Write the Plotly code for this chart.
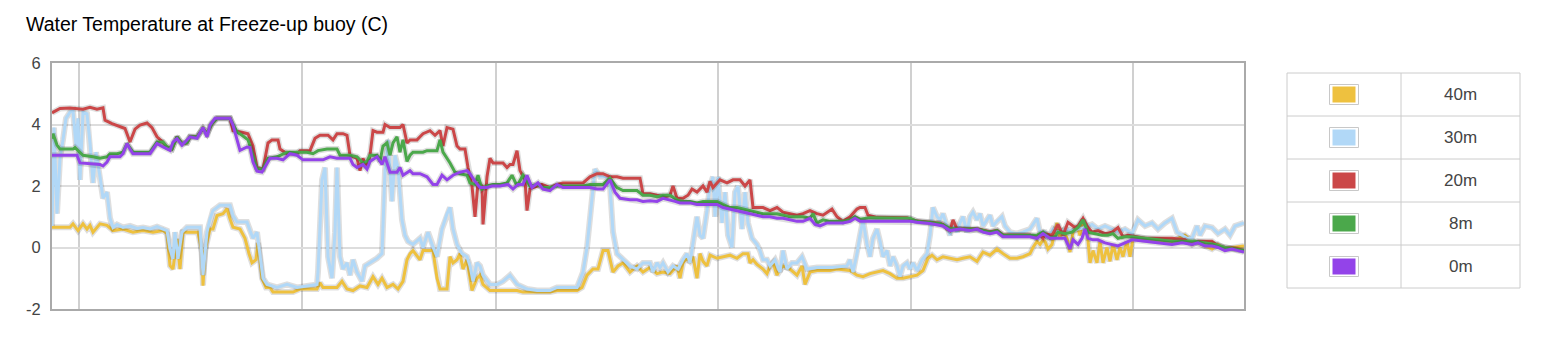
import plotly.graph_objects as go

# ---- data: (hour, temperature C) ----
series_names = ["40m", "30m", "20m", "8m", "0m"]
series_colors = ["#EEC13F", "#B1D8F7", "#CB4748", "#4BA84B", "#9343E9"]

temp_40m = [(50,0.66),(68,0.66),(71,0.77),(76,0.55),(81,0.77),(85,0.6),(88,0.72),(91,0.5),(98,0.77),(105,0.72),
    (111,0.55),(121,0.6),(131,0.5),(141,0.55),(151,0.5),(161,0.55),(165,0.45),(168,-0.59),(171,-0.7),(175,0.28),
    (178,-0.7),(181,0.5),(188,0.5),(196,0.5),(200,-0.15),(201,-1.24),(203,-0.1),(208,0.6),(211,0.6),(215,1.04),
    (221,1.1),(225,1.26),(228,0.93),(231,0.66),(238,0.6),(243,0.3),(247,-0.2),(250,-0.5),(254,-0.4),(256,0.15),
    (260,-1.0),(264,-1.3),(268,-1.3),(271,-1.45),(291,-1.45),(298,-1.35),(315,-1.35),(318,-1.15),(321,-1.3),(335,-1.3),
    (340,-1.1),(345,-1.35),(351,-1.4),(358,-1.25),(365,-1.3),(371,-0.95),(376,-1.2),(380,-1.0),(385,-1.3),(391,-1.2),
    (396,-1.35),(401,-1.1),(405,-0.4),(408,-0.2),(411,-0.1),(418,-0.4),(421,-0.1),(431,-0.1),(435,-1.0),(438,-1.35),
    (445,-1.35),(448,-0.3),(451,-0.5),(455,-0.4),(458,-0.2),(461,-0.7),(465,-0.4),(470,-1.4),(475,-1.0),(478,-0.9),
    (481,-1.2),(488,-1.4),(515,-1.4),(521,-1.45),(548,-1.45),(555,-1.4),(575,-1.4),(580,-1.3),(585,-0.9),(591,-0.7),
    (596,-0.7),(601,-0.1),(606,-0.1),(611,-0.8),(616,-0.6),(621,-0.5),(628,-0.8),(635,-0.6),(641,-0.8),(648,-0.65),
    (655,-0.85),(661,-0.8),(668,-0.85),(675,-0.6),(678,-1.0),(681,-0.5),(685,-0.35),(688,-0.45),(691,-0.3),(695,-1.0),
    (698,-0.2),(701,-0.45),(705,-0.6),(708,-0.25),(715,-0.35),(721,-0.3),(728,-0.25),(735,-0.35),(741,-0.2),(746,-0.2),
    (748,-0.5),(751,-0.4),(755,-0.55),(761,-0.7),(765,-0.85),(768,-0.6),(771,-0.5),(775,-0.9),(778,-0.7),(781,-0.6),
    (788,-0.7),(795,-0.9),(800,-0.6),(803,-1.2),(808,-0.8),(815,-0.75),(828,-0.75),(835,-0.7),(848,-0.75),(855,-0.9),
    (861,-0.95),(868,-0.85),(875,-0.8),(881,-0.75),(888,-0.85),(895,-1.0),(901,-1.0),(908,-0.95),(915,-0.9),(921,-0.75),
    (926,-0.35),(930,-0.25),(935,-0.4),(941,-0.3),(948,-0.35),(955,-0.4),(961,-0.35),(968,-0.3),(975,-0.45),(981,-0.15),
    (988,-0.25),(995,-0.05),(1001,-0.2),(1008,-0.35),(1015,-0.35),(1021,-0.3),(1028,-0.2),(1031,0.0),(1035,0.2),(1038,0.1),
    (1041,0.25),(1043,0.2),(1046,-0.05),(1050,0.1),(1055,0.8),(1058,0.3),(1061,0.6),(1065,0.3),(1068,-0.15),(1071,0.5),
    (1075,0.7),(1078,0.4),(1081,0.9),(1085,0.6),(1088,-0.5),(1091,-0.1),(1095,-0.5),(1098,0.2),(1101,-0.5),(1105,0.0),
    (1108,-0.45),(1111,0.1),(1115,-0.4),(1118,0.0),(1121,-0.3),(1125,0.2),(1128,-0.3),(1131,0.3),(1135,0.3),(1143,0.25),
    (1156,0.2),(1170,0.2),(1183,0.4),(1190,0.2),(1196,0.15),(1203,0.05),(1210,-0.05),(1216,0.1),(1223,-0.05),(1230,0.0),
    (1242,0.05)]

temp_30m = [(50,0.7),(52,3.9),(55,1.1),(58,2.9),(61,3.5),(64,4.2),(68,4.4),(71,4.45),(74,3.3),(76,4.2),(78,2.2),
    (81,4.4),(85,4.35),(88,3.4),(91,2.1),(94,3.1),(98,2.3),(101,1.6),(105,1.8),(108,0.95),(111,0.65),(115,0.75),
    (121,0.65),(128,0.7),(135,0.62),(141,0.65),(148,0.6),(155,0.68),(161,0.6),(165,0.55),(168,-0.05),(171,-0.37),
    (173,0.5),(176,-0.37),(180,0.5),(185,0.66),(198,0.66),(201,-0.9),(205,0.5),(208,0.93),(211,1.2),(218,1.37),
    (228,1.37),(231,1.04),(235,0.83),(245,0.83),(248,0.55),(251,0.3),(255,0.5),(258,-0.3),(261,-1.0),(265,-1.2),
    (275,-1.3),(285,-1.2),(295,-1.3),(305,-1.25),(315,-1.2),(316,-0.8),(320,2.2),(323,2.6),(326,-0.3),(330,-1.0),
    (333,0.5),(335,2.6),(338,-0.3),(341,-0.7),(345,-0.5),(348,-0.9),(351,-0.4),(355,-0.8),(360,-1.1),(363,-0.6),
    (368,-0.5),(375,-0.35),(380,-0.2),(383,2.5),(386,3.5),(390,1.5),(393,3.0),(396,2.6),(400,0.9),(403,0.4),
    (406,0.2),(411,0.1),(418,0.3),(421,0.0),(426,0.5),(430,0.1),(435,-0.3),(440,0.6),(445,1.1),(448,1.3),
    (451,0.6),(455,0.1),(460,-0.2),(465,-0.3),(468,-0.6),(471,-1.1),(475,-0.5),(478,-0.6),(481,-0.9),(488,-1.2),
    (495,-1.2),(501,-1.1),(508,-0.9),(515,-1.2),(525,-1.35),(535,-1.4),(548,-1.4),(555,-1.3),(575,-1.3),(581,-0.8),
    (585,0.0),(590,1.5),(593,2.55),(598,2.3),(605,2.3),(608,2.0),(611,0.5),(615,-0.2),(621,-0.4),(628,-0.6),
    (635,-0.7),(641,-0.5),(648,-0.5),(651,-0.8),(655,-0.5),(658,-0.65),(661,-0.5),(666,-0.8),(671,-0.6),(676,-0.7),
    (681,-0.4),(685,-0.2),(688,-0.5),(691,0.2),(695,1.0),(698,0.4),(701,0.3),(705,1.2),(708,2.0),(711,2.3),
    (713,1.0),(716,2.3),(720,0.8),(723,1.8),(726,0.4),(730,0.0),(733,1.8),(736,2.0),(740,0.6),(743,1.8),
    (746,0.8),(750,0.3),(755,0.1),(758,-0.1),(761,-0.4),(765,-0.4),(768,-0.6),(773,-0.4),(778,-0.8),(781,-0.1),
    (785,-0.7),(790,-0.5),(795,-0.5),(800,-0.3),(805,-0.7),(815,-0.65),(830,-0.65),(845,-0.6),(848,-0.4),(851,-0.8),
    (855,-0.2),(858,0.4),(861,0.9),(865,0.1),(868,-0.3),(871,0.3),(875,0.6),(878,0.2),(881,-0.3),(885,-0.1),
    (888,-0.6),(891,-0.3),(895,-0.6),(898,-0.95),(901,-0.6),(905,-0.5),(908,-0.7),(911,-0.5),(915,-0.75),(920,-0.4),
    (925,-0.2),(928,0.4),(931,1.3),(935,1.0),(938,0.9),(941,1.1),(945,0.7),(948,0.4),(951,0.8),(955,0.5),
    (958,0.8),(961,1.0),(965,0.5),(968,1.0),(971,1.15),(975,0.9),(978,1.1),(981,0.7),(985,0.9),(988,1.05),
    (991,0.7),(995,0.85),(1000,1.0),(1003,0.7),(1008,0.5),(1015,0.45),(1021,0.5),(1028,0.6),(1035,0.95),(1038,0.5),
    (1043,0.5),(1046,0.3),(1051,0.6),(1056,0.5),(1063,0.6),(1070,0.55),(1076,0.6),(1083,0.65),(1090,0.75),(1096,0.6),
    (1103,0.7),(1110,0.6),(1116,0.5),(1123,0.6),(1130,0.45),(1136,0.9),(1143,0.7),(1150,0.8),(1156,0.6),(1163,0.8),
    (1170,0.95),(1175,0.5),(1180,0.4),(1185,0.3),(1190,0.3),(1195,0.7),(1198,0.4),(1203,0.7),(1210,0.65),(1216,0.45),
    (1223,0.6),(1228,0.4),(1233,0.7),(1238,0.75),(1242,0.8)]

temp_20m = [(50,4.38),(58,4.52),(68,4.54),(81,4.5),(88,4.56),(95,4.5),(101,4.54),(103,4.14),(110,4.03),(116,3.95),
    (123,3.87),(128,3.43),(133,3.85),(138,3.98),(145,4.05),(150,3.9),(155,3.6),(160,3.45),(165,3.27),(170,3.2),
    (175,3.6),(180,3.38),(185,3.4),(188,3.6),(195,3.6),(201,3.87),(205,3.7),(210,4.03),(215,4.2),(228,4.2),
    (231,3.8),(240,3.75),(246,3.7),(251,3.3),(255,2.6),(261,2.55),(266,3.4),(270,3.5),(276,3.5),(278,3.2),
    (285,3.05),(295,3.05),(298,3.15),(308,3.15),(313,3.55),(318,3.65),(326,3.65),(331,3.5),(335,3.7),(341,3.7),
    (345,3.65),(348,3.0),(355,2.9),(358,2.5),(361,2.9),(365,2.6),(368,3.0),(371,3.8),(375,3.75),(381,3.75),
    (383,4.0),(388,3.9),(398,3.9),(401,4.0),(405,3.4),(408,3.5),(415,3.5),(418,3.6),(421,3.7),(428,3.8),
    (433,3.65),(438,3.8),(441,3.3),(445,3.9),(451,3.85),(455,3.3),(458,3.2),(463,3.2),(466,2.6),(470,2.0),
    (473,1.0),(476,2.1),(480,2.0),(481,0.75),(485,2.3),(488,2.9),(491,2.75),(501,2.75),(505,2.6),(508,2.7),
    (511,2.7),(515,3.15),(518,2.5),(523,2.2),(525,1.2),(528,1.9),(531,1.95),(540,2.05),(548,1.95),(555,2.05),
    (561,2.1),(581,2.1),(588,2.3),(595,2.4),(601,2.4),(608,2.3),(615,2.3),(621,2.25),(638,2.25),(641,1.75),
    (648,1.75),(655,1.7),(663,1.65),(668,1.7),(671,2.0),(675,1.6),(681,1.6),(686,1.7),(690,1.9),(695,1.8),
    (701,2.0),(705,1.8),(708,2.15),(711,1.95),(718,2.2),(725,2.1),(731,2.2),(738,2.2),(743,2.0),(748,2.2),
    (751,1.3),(761,1.3),(768,1.2),(775,1.3),(781,1.15),(788,1.1),(795,1.05),(801,1.1),(808,1.2),(815,1.1),
    (821,1.05),(830,1.25),(835,1.0),(841,0.85),(848,1.0),(855,1.25),(858,1.3),(863,1.3),(866,1.05),(875,0.98),
    (890,0.98),(905,0.97),(915,0.86),(928,0.83),(938,0.79),(941,0.75),(945,0.6),(948,0.55),(951,0.9),(955,0.6),
    (960,0.61),(975,0.61),(981,0.56),(988,0.51),(995,0.56),(1001,0.41),(1015,0.41),(1028,0.41),(1035,0.3),(1038,0.4),
    (1041,0.3),(1043,0.45),(1050,0.4),(1056,0.75),(1061,0.4),(1066,0.82),(1073,0.65),(1076,0.7),(1081,0.95),(1085,0.7),
    (1090,0.5),(1096,0.55),(1103,0.45),(1110,0.5),(1116,0.65),(1121,0.35),(1126,0.4),(1133,0.35),(1143,0.3),(1156,0.3),
    (1170,0.3),(1183,0.25),(1190,0.1),(1196,0.2),(1210,0.2),(1216,0.05),(1223,0.0),(1236,-0.05),(1242,-0.1)]

temp_8m = [(50,3.54),(51,3.7),(55,3.33),(58,3.2),(65,3.2),(71,3.2),(73,3.25),(76,3.16),(81,3.0),(91,2.95),
    (98,2.9),(105,2.95),(108,3.05),(115,3.05),(121,3.1),(125,3.38),(131,3.1),(148,3.1),(155,3.43),(161,3.43),
    (165,3.27),(170,3.2),(175,3.6),(180,3.38),(185,3.4),(188,3.6),(195,3.6),(201,3.87),(205,3.7),(210,4.03),
    (215,4.2),(228,4.2),(231,4.03),(235,3.76),(240,3.65),(246,3.5),(251,3.0),(255,2.55),(261,2.55),(266,2.9),
    (275,2.95),(285,3.1),(305,3.1),(311,3.05),(316,3.15),(325,3.2),(335,3.2),(338,3.0),(348,3.0),(355,2.95),
    (361,2.75),(365,2.8),(368,3.0),(375,3.0),(378,2.8),(381,3.3),(385,3.4),(388,3.0),(391,3.4),(395,3.6),
    (398,3.1),(401,3.5),(405,2.8),(408,3.0),(411,3.1),(421,3.1),(425,3.15),(435,3.15),(438,3.5),(441,3.1),
    (448,2.75),(453,2.45),(458,2.4),(465,2.35),(468,2.1),(473,2.05),(476,2.35),(480,1.9),(485,2.0),(491,2.05),
    (498,2.05),(505,2.1),(510,2.35),(515,2.0),(521,2.35),(528,2.0),(535,2.05),(541,1.95),(548,1.95),(555,2.0),
    (581,2.0),(588,2.05),(601,2.05),(608,2.25),(615,1.95),(621,1.85),(635,1.85),(641,1.7),(648,1.7),(655,1.65),
    (661,1.7),(668,1.7),(675,1.55),(681,1.5),(688,1.5),(695,1.45),(701,1.5),(715,1.5),(721,1.4),(728,1.3),
    (735,1.3),(741,1.25),(748,1.2),(755,1.15),(761,1.1),(775,1.1),(781,1.05),(788,1.0),(801,1.0),(808,0.95),
    (811,1.1),(815,0.8),(821,0.9),(828,0.85),(841,0.85),(848,0.9),(853,1.0),(858,0.92),(868,0.97),(890,0.97),
    (908,0.95),(915,0.85),(928,0.82),(938,0.78),(948,0.62),(958,0.6),(975,0.6),(981,0.55),(988,0.5),(995,0.55),
    (1001,0.4),(1028,0.4),(1035,0.4),(1041,0.5),(1048,0.3),(1053,0.35),(1056,0.5),(1063,0.45),(1070,0.5),(1076,0.65),
    (1081,0.9),(1086,0.5),(1093,0.45),(1100,0.4),(1106,0.4),(1111,0.45),(1116,0.3),(1123,0.35),(1130,0.35),(1143,0.3),
    (1156,0.25),(1170,0.2),(1193,0.2),(1203,0.15),(1213,0.1),(1223,0.0),(1233,-0.05),(1242,-0.1)]

temp_0m = [(50,3.0),(58,3.0),(75,3.0),(78,2.75),(88,2.72),(98,2.7),(101,2.65),(105,2.78),(108,2.95),(118,2.95),
    (121,3.05),(125,3.38),(128,3.2),(131,3.05),(148,3.05),(155,3.38),(161,3.27),(168,3.16),(171,3.43),(175,3.54),
    (180,3.33),(188,3.6),(195,3.55),(201,3.9),(205,3.6),(208,3.98),(213,4.2),(228,4.2),(231,3.98),(235,3.54),
    (238,3.16),(245,3.27),(248,3.25),(251,2.78),(255,2.48),(260,2.45),(268,2.9),(275,2.9),(281,2.85),(288,3.05),
    (295,3.0),(301,2.85),(321,2.85),(328,2.95),(335,2.9),(348,2.9),(351,2.7),(355,2.6),(361,2.7),(365,2.55),
    (368,2.8),(375,2.95),(380,2.7),(383,2.95),(388,2.45),(395,2.45),(398,2.6),(401,2.35),(408,2.5),(411,2.4),
    (418,2.4),(425,2.3),(431,2.05),(435,2.05),(440,2.35),(445,2.2),(451,2.35),(458,2.45),(465,2.5),(468,2.4),
    (473,2.15),(478,1.95),(485,1.95),(490,2.0),(498,2.0),(506,2.05),(511,1.9),(516,2.05),(521,2.05),(525,2.35),
    (530,1.95),(536,2.1),(541,1.9),(548,1.85),(555,2.05),(561,1.95),(588,1.95),(595,1.9),(601,1.9),(608,2.2),
    (613,1.8),(618,1.6),(628,1.55),(635,1.55),(641,1.5),(648,1.52),(655,1.5),(661,1.6),(668,1.55),(673,1.5),
    (678,1.45),(688,1.45),(695,1.4),(715,1.4),(721,1.3),(728,1.25),(735,1.2),(741,1.15),(748,1.1),(755,1.05),
    (761,1.0),(768,1.0),(775,0.95),(781,0.95),(788,0.9),(795,0.85),(801,0.85),(808,0.95),(813,0.75),(818,0.7),
    (825,0.8),(841,0.8),(848,0.85),(853,0.95),(858,0.85),(908,0.85),(915,0.82),(928,0.78),(941,0.7),(948,0.55),
    (958,0.6),(968,0.55),(975,0.6),(981,0.5),(988,0.45),(995,0.5),(1001,0.35),(1028,0.35),(1035,0.3),(1041,0.45),
    (1048,0.3),(1053,0.3),(1058,0.3),(1063,0.3),(1068,-0.05),(1071,0.25),(1076,0.1),(1080,0.3),(1083,0.6),(1086,0.3),
    (1091,0.25),(1096,0.25),(1103,0.15),(1110,0.1),(1116,0.05),(1123,0.15),(1130,0.25),(1143,0.2),(1156,0.15),(1170,0.1),
    (1180,0.15),(1190,0.1),(1196,0.15),(1203,0.05),(1210,0.05),(1216,0.0),(1223,-0.1),(1230,-0.05),(1236,-0.1),(1242,-0.15)]

all_series = [temp_40m, temp_30m, temp_20m, temp_8m, temp_0m]

x_range = [50, 1242]
x_grid_hours = [77, 300, 494, 716, 909, 1131]
y_ticks = [-2, 0, 2, 4, 6]
title_text = "Water Temperature at Freeze-up buoy (C)"

# ---- figure geometry (pixels) ----
W, H = 1542, 346
PL, PR, PT, PB = 52, 1244, 63, 309
FONT = "Arial, 'Liberation Sans', Helvetica, sans-serif"

fig = go.Figure()
for name, color, pts in zip(series_names, series_colors, all_series):
    xs = [p[0] for p in pts]
    ys = [p[1] for p in pts]
    fig.add_trace(go.Scatter(x=xs, y=ys, mode="lines", hoverinfo="skip", showlegend=False,
                             line=dict(color="rgba(0,0,0,0.13)", width=6)))
    fig.add_trace(go.Scatter(x=xs, y=ys, mode="lines", name=name, showlegend=False,
                             line=dict(color=color, width=3)))

def paper_x(px):
    return (px - PL) / (PR - PL)

def paper_y(py):
    return (PB - py) / (PB - PT)

# legend table
shapes = []
tab_l, tab_m, tab_r = 1287, 1401, 1520
row_top, row_h = 73, 43
n = len(series_names)
grid_col = "#cccccc"
shapes.append(dict(type="rect", xref="paper", yref="paper", x0=paper_x(tab_l), x1=paper_x(tab_r),
                   y0=paper_y(row_top + n * row_h), y1=paper_y(row_top), line=dict(color=grid_col, width=1),
                   fillcolor="white", layer="above"))
shapes.append(dict(type="line", xref="paper", yref="paper", x0=paper_x(tab_m), x1=paper_x(tab_m),
                   y0=paper_y(row_top + n * row_h), y1=paper_y(row_top), line=dict(color=grid_col, width=1)))
annotations = []
sw_cx = (tab_l + tab_m) / 2
lab_cx = (tab_m + tab_r) / 2
for i, (name, color) in enumerate(zip(series_names, series_colors)):
    if i > 0:
        yy = row_top + i * row_h
        shapes.append(dict(type="line", xref="paper", yref="paper", x0=paper_x(tab_l), x1=paper_x(tab_r),
                           y0=paper_y(yy), y1=paper_y(yy), line=dict(color=grid_col, width=1)))
    cy = row_top + i * row_h + row_h / 2
    shapes.append(dict(type="rect", xref="paper", yref="paper", x0=paper_x(sw_cx - 14.5), x1=paper_x(sw_cx + 14.5),
                       y0=paper_y(cy + 10), y1=paper_y(cy - 10), line=dict(color="#c8c8c8", width=1),
                       fillcolor="white"))
    shapes.append(dict(type="rect", xref="paper", yref="paper", x0=paper_x(sw_cx - 11.5), x1=paper_x(sw_cx + 11.5),
                       y0=paper_y(cy + 8), y1=paper_y(cy - 8), line=dict(width=0), fillcolor=color))
    annotations.append(dict(xref="paper", yref="paper", x=paper_x(lab_cx), y=paper_y(cy), text=name,
                            showarrow=False, xanchor="center", yanchor="middle",
                            font=dict(family=FONT, size=17, color="#444444")))

fig.update_layout(
    width=W, height=H,
    margin=dict(l=PL, r=W - PR, t=PT, b=H - PB, pad=0),
    paper_bgcolor="white", plot_bgcolor="white",
    showlegend=False,
    title=dict(text=title_text, x=26 / W, xref="container", xanchor="left",
               y=1 - 24.5 / H, yref="container", yanchor="middle",
               font=dict(family=FONT, size=19.5, color="#000000")),
    xaxis=dict(range=x_range, tickvals=x_grid_hours, showticklabels=False, ticks="",
               showgrid=True, gridcolor="#d0d0d0", gridwidth=1.5, zeroline=False,
               showline=True, linecolor="#aaaaaa", linewidth=2, mirror=True),
    yaxis=dict(range=[-2, 6], tickvals=y_ticks, ticktext=[str(v) for v in y_ticks], ticks="",
               tickfont=dict(family=FONT, size=16.5, color="#444444"), ticklabelstandoff=6,
               showgrid=True, gridcolor="#dddddd", gridwidth=1.5, zeroline=False,
               showline=True, linecolor="#aaaaaa", linewidth=2, mirror=True),
    shapes=shapes, annotations=annotations,
)

fig.write_html("out.html")
